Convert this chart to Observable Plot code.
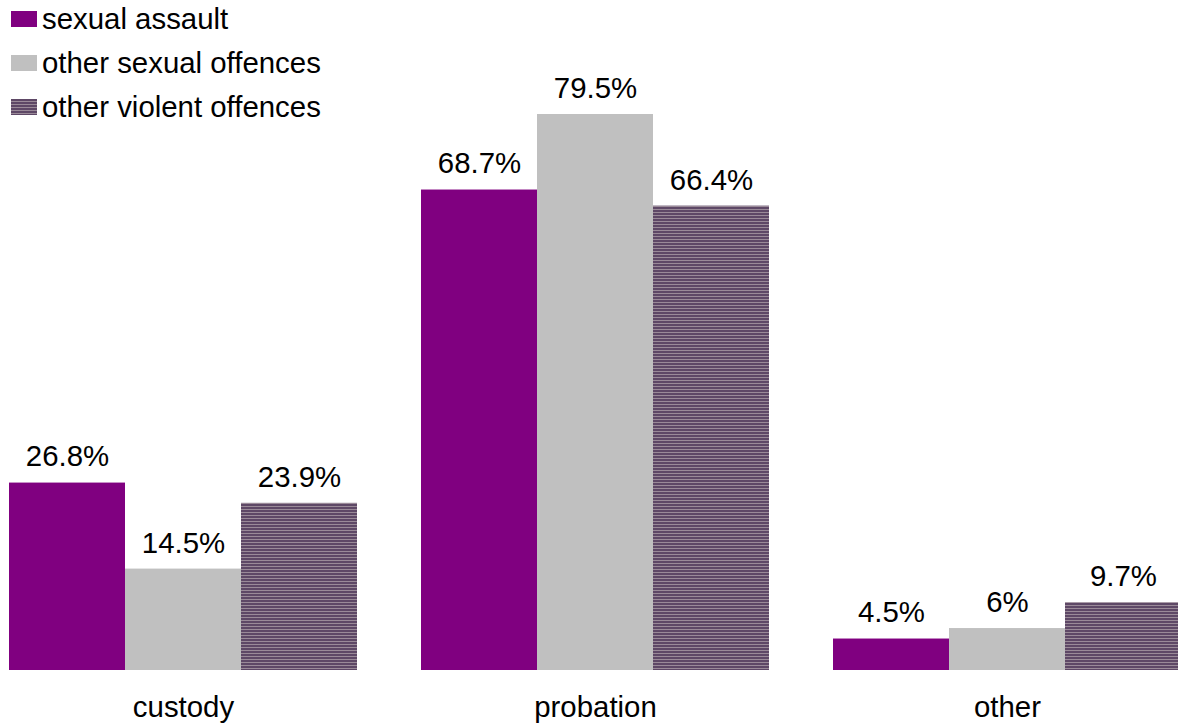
<!DOCTYPE html>
<html>
<head>
<meta charset="utf-8">
<script src="https://cdn.jsdelivr.net/npm/d3@7"></script>
<script src="https://cdn.jsdelivr.net/npm/@observablehq/plot@0.6"></script>
<style>
  html, body { margin: 0; padding: 0; background: #fff; overflow: hidden; }
  #wrap { position: relative; width: 1178px; height: 723px; font-family: "Liberation Sans", Arial, sans-serif; }
  #legend { position: absolute; left: 0; top: 0; }
  .item { position: absolute; left: 11px; white-space: nowrap; font-size: 29.4px; color: #000; }
  .sw { position: absolute; left: 0; width: 26px; height: 16px; }
  .lbl { position: absolute; left: 31px; }
</style>
</head>
<body>
<div id="wrap"><div id="legend"></div></div>
<script>
const categories = ["custody", "probation", "other"];
const series = ["sexual assault", "other sexual offences", "other violent offences"];
const sexualAssault = [26.8, 68.7, 4.5];
const otherSexual = [14.5, 79.5, 6];
const otherViolent = [23.9, 66.4, 9.7];
const colors = ["#800080", "#c0c0c0", "url(#hatch)"];

const values = [sexualAssault, otherSexual, otherViolent];
const data = [];
categories.forEach((c, i) => series.forEach((s, j) => data.push({category: c, series: s, value: values[j][i]})));

const chart = Plot.plot({
  width: 1178,
  height: 723,
  marginTop: 114,
  marginBottom: 53,
  marginLeft: 7,
  marginRight: 0,
  style: {fontFamily: "'Liberation Sans', Arial, sans-serif", color: "#000", background: "#fff", overflow: "visible"},
  fx: {domain: categories, range: [7, 1183], paddingInner: 0.15, paddingOuter: 0},
  x: {domain: series, padding: 0, axis: null},
  y: {domain: [0, 79.5], axis: null},
  color: {domain: series, range: colors},
  marks: [
    Plot.barY(data, {fx: "category", x: "series", y: "value", fill: "series"}),
    Plot.text(data, {fx: "category", x: "series", y: "value", text: d => d.value + "%", dy: -26, fontSize: 29.4, fill: "#000"}),
    Plot.axisFx({anchor: "bottom", tickSize: 0, tickPadding: 26, fontSize: 29.4, label: null})
  ]
});

const svgNS = "http://www.w3.org/2000/svg";
const defs = document.createElementNS(svgNS, "defs");
defs.innerHTML = '<pattern id="hatch" patternUnits="userSpaceOnUse" width="8" height="3">' +
  '<rect width="8" height="3" fill="#5e4866"/><rect y="2" width="8" height="1" fill="#9a8a98"/></pattern>';
chart.insertBefore(defs, chart.firstChild);
chart.style.position = "absolute";
chart.style.left = "0";
chart.style.top = "0";
document.getElementById("wrap").insertBefore(chart, document.getElementById("legend"));

const legend = document.getElementById("legend");
const swatchBg = ["#800080", "#c0c0c0", "repeating-linear-gradient(to bottom, #5e4866 0px, #5e4866 2px, #9a8a98 2px, #9a8a98 3px)"];
series.forEach((s, i) => {
  const item = document.createElement("div");
  item.className = "item";
  item.style.top = (i * 44) + "px";
  item.innerHTML = '<div class="sw" style="top:11px;background:' + swatchBg[i] + '"></div><div class="lbl" style="top:0px;line-height:38px">' + s + '</div>';
  legend.appendChild(item);
});
</script>
</body>
</html>
